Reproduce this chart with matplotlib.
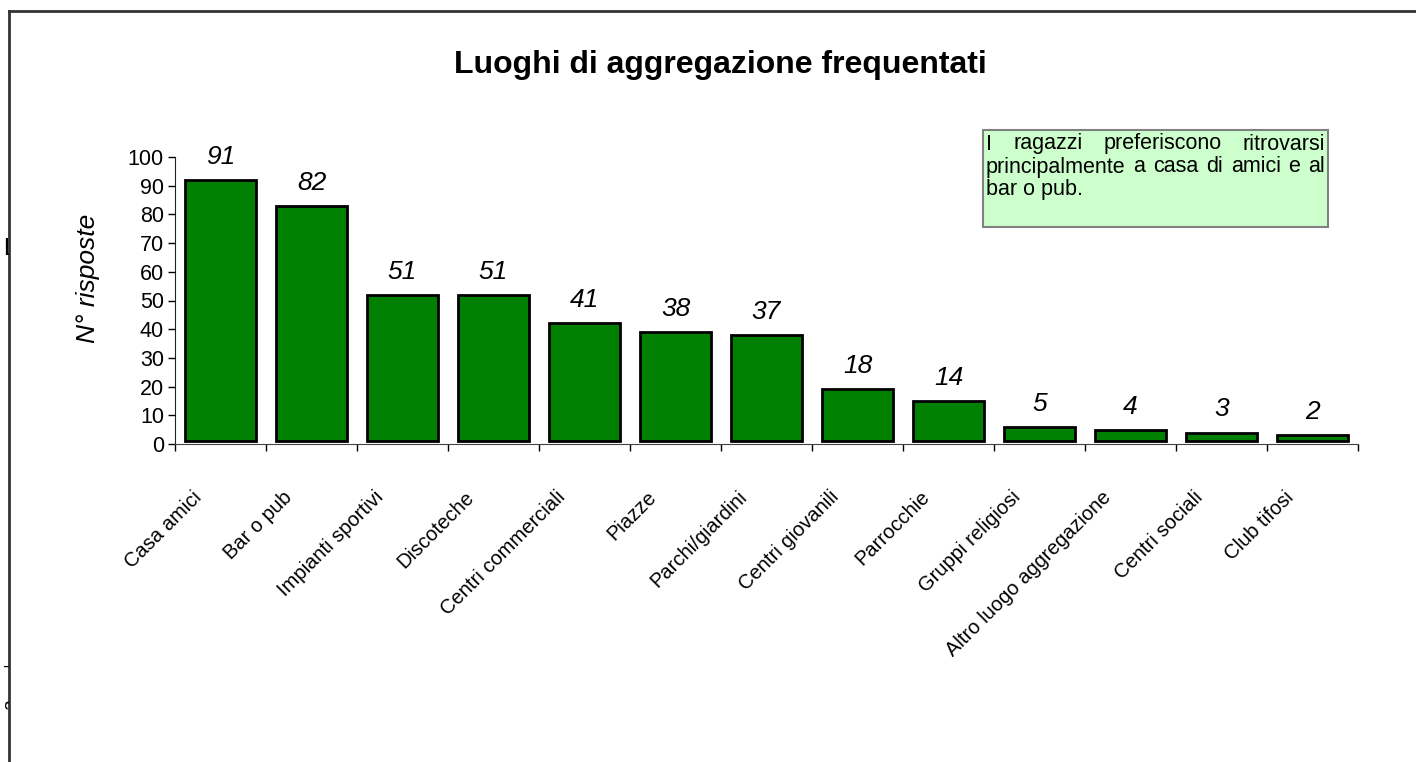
import matplotlib
matplotlib.use('Agg')
import matplotlib.pyplot as plt
from matplotlib.patches import Rectangle
from matplotlib.lines import Line2D
from matplotlib.transforms import ScaledTranslation, Bbox

categories = ['Casa amici', 'Bar o pub', 'Impianti sportivi', 'Discoteche',
              'Centri commerciali', 'Piazze', 'Parchi/giardini', 'Centri giovanili',
              'Parrocchie', 'Gruppi religiosi', 'Altro luogo aggregazione',
              'Centri sociali', 'Club tifosi']
risposte = [91, 82, 51, 51, 41, 38, 37, 18, 14, 5, 4, 3, 2]
y_ticks = [0, 10, 20, 30, 40, 50, 60, 70, 80, 90, 100]

title = 'Luoghi di aggregazione frequentati'
ylabel = 'N° risposte'
note_lines = ['I ragazzi preferiscono ritrovarsi',
              'principalmente a casa di amici e al',
              'bar o pub.']

W, H = 1416, 762
plt.rcParams['font.family'] = ['Liberation Sans', 'DejaVu Sans']

fig = plt.figure(figsize=(W / 100, H / 100), dpi=100)


def fx(px):
    return px / W


def fy(py):
    return 1 - py / H


ax = fig.add_axes([fx(175), fy(444), fx(1358) - fx(175), fy(157) - fy(444)])

x = list(range(len(categories)))
# excel draws the bars a notch above the axis line
ax.bar(x, risposte, bottom=1, width=0.77, color='#008000',
       edgecolor='black', linewidth=2, zorder=3)
for i, v in enumerate(risposte):
    ax.annotate(str(v), (i, v + 1), xytext=(0, 8), textcoords='offset points',
                ha='center', va='bottom', fontsize=19, style='italic')

ax.set_xlim(-0.5, len(categories) - 0.5)
ax.set_ylim(0, 100)
ax.set_yticks(y_ticks)
ax.tick_params(axis='y', direction='out', length=5, width=1, labelsize=15.5, pad=3)
ax.set_xticks(x)
ax.set_xticklabels(categories, rotation=45, ha='right', va='center',
                   rotation_mode='anchor', fontsize=14.5)
ax.tick_params(axis='x', which='major', length=0, pad=36)
ax.set_xticks([i - 0.5 for i in range(len(categories) + 1)], minor=True)
ax.tick_params(axis='x', which='minor', direction='out', length=5, width=1)
shift = ScaledTranslation(-22 / 100, 0, fig.dpi_scale_trans)
for lab in ax.get_xticklabels():
    lab.set_transform(lab.get_transform() + shift)

for s in ['top', 'right']:
    ax.spines[s].set_visible(False)
ax.spines['left'].set_color('#222222')
ax.spines['bottom'].set_color('#444444')

fig.text(fx(720), fy(65), title, ha='center', va='center',
         fontsize=23, fontweight='bold')
fig.text(fx(88), fy(278), ylabel, ha='center', va='center', rotation=90,
         fontsize=19, style='italic')

# note box
bx0, bx1, by0, by1 = 983, 1328, 130, 227
fig.patches.append(Rectangle((fx(bx0), fy(by1)), fx(bx1) - fx(bx0), fy(by0) - fy(by1),
                             transform=fig.transFigure, facecolor='#CCFFCC',
                             edgecolor='#808080', linewidth=1.5))
line_y = [144, 167, 190]
left, right = bx0 + 3, bx1 - 3
fs_note = 15.5
fig.canvas.draw()
renderer = fig.canvas.get_renderer()
for k, line in enumerate(note_lines):
    if k == len(note_lines) - 1:
        fig.text(fx(left), fy(line_y[k]), line, ha='left', va='center', fontsize=fs_note)
        continue
    words = line.split()
    texts = [fig.text(0, fy(line_y[k]), w, ha='left', va='center', fontsize=fs_note)
             for w in words]
    widths = [t.get_window_extent(renderer).width for t in texts]
    gap = (right - left - sum(widths)) / (len(words) - 1)
    pos = left
    for t, w in zip(texts, widths):
        t.set_x(fx(pos))
        pos += w + gap

# outer frame (only left and top visible)
fig.add_artist(Line2D([fx(9), fx(9)], [fy(11), 0], transform=fig.transFigure,
                      color='#333333', linewidth=2))
fig.add_artist(Line2D([fx(9), 1], [fy(11), fy(11)], transform=fig.transFigure,
                      color='#333333', linewidth=2))

# text from a neighbouring cell, cut by the frame
edge_clip = Bbox([[0, 0], [9, H]])
for s, px, py, size, rot in [('L', 3, 249, 17, 0), ('-', 2, 667, 14, 0),
                             ('a', 2, 705, 14, 90)]:
    t = fig.text(fx(px), fy(py), s, ha='left', va='center', fontsize=size, rotation=rot)
    t.set_clip_box(edge_clip)
    t.set_clip_on(True)

fig.savefig('out.png', dpi=100)
